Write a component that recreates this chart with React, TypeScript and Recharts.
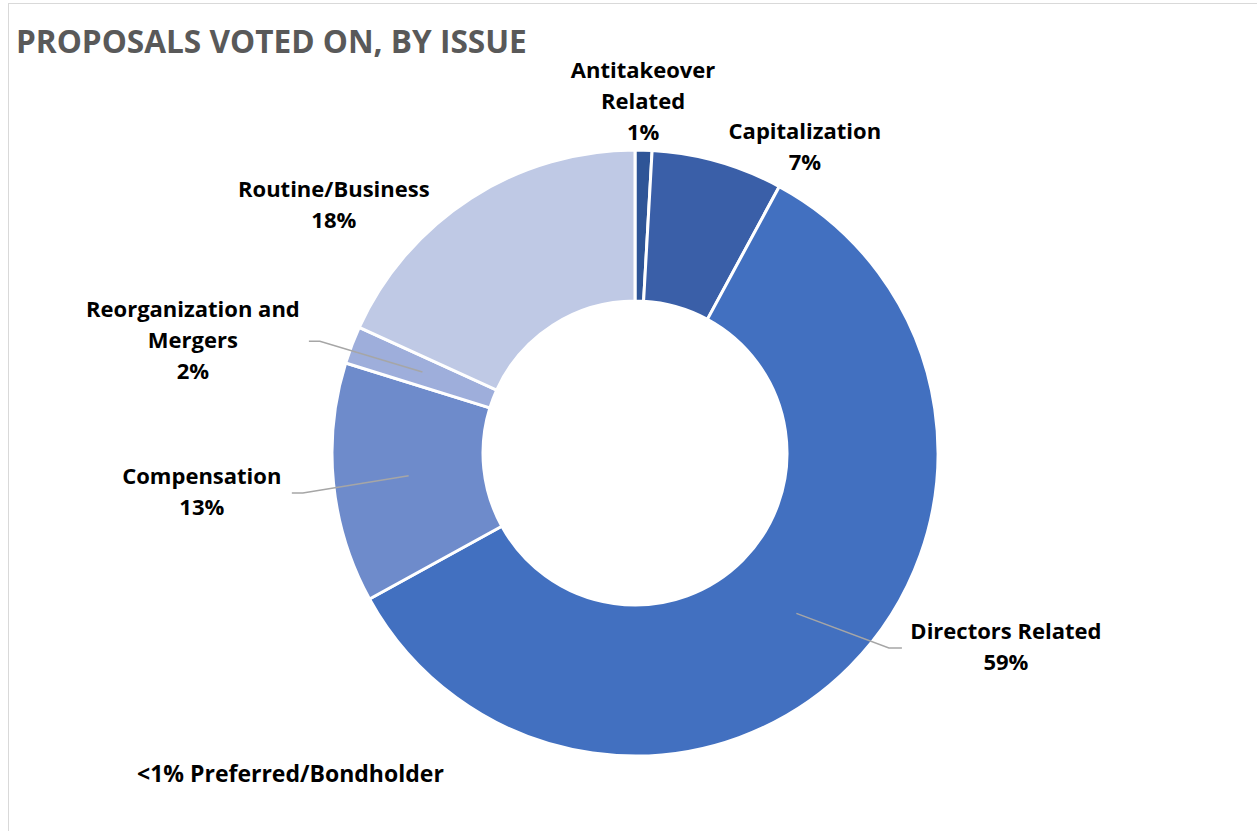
import React from "react";
import { PieChart, Pie, Cell } from "recharts";

const categories = [
  "Antitakeover Related",
  "Capitalization",
  "Directors Related",
  "Compensation",
  "Reorganization and Mergers",
  "Routine/Business",
];
const shares = [0.9, 7.0, 59.1, 12.8, 2.0, 18.2];
const sliceColors = ["#2F5597", "#3A5FA8", "#4270C0", "#6E8BCB", "#9EAEDB", "#BFC9E5"];
const title = "PROPOSALS VOTED ON, BY ISSUE";
const note = "<1% Preferred/Bondholder";

// label placement: radius, angle nudge (deg, clockwise), leader end offset from label centre
const labelLayout = [
  { r: 351, da: -0.3, lead: 0 },
  { r: 350, da: 13.2, lead: 0 },
  { r: 419, da: -17.1, lead: -104 },
  { r: 435, da: 0.5, lead: 90 },
  { r: 456, da: -6.7, lead: 116 },
  { r: 390, da: -17.8, lead: 0 },
];

const data = categories.map((name, i) => ({ name, value: shares[i] }));

const FONT = "'Open Sans', Lato, sans-serif";
const RAD = Math.PI / 180;

// clockwise-from-top angle to point
const polar = (cx: number, cy: number, r: number, deg: number) => ({
  x: cx + r * Math.sin(deg * RAD),
  y: cy - r * Math.cos(deg * RAD),
});

const wrap = (text: string, max: number) => {
  const lines: string[] = [];
  let cur = "";
  text.split(" ").forEach((w) => {
    const next = cur ? cur + " " + w : w;
    if (next.length > max && cur) {
      lines.push(cur);
      cur = w;
    } else cur = next;
  });
  if (cur) lines.push(cur);
  return lines;
};

const renderLabel = (props: any) => {
  const { cx, cy, midAngle, innerRadius, outerRadius, percent, index, name } = props;
  const layout = labelLayout[index];
  const theta = 90 - midAngle;
  const pos = polar(cx, cy, layout.r, theta + layout.da);
  const lines = [...wrap(name, 18), `${Math.round(percent * 100)}%`];
  const lh = 31;
  let leader = null;
  if (layout.lead) {
    const start = polar(cx, cy, (innerRadius + outerRadius) / 2, theta);
    const endX = pos.x + layout.lead;
    const ly = pos.y;
    const elbowX = endX + (layout.lead > 0 ? 11 : -13);
    leader = (
      <polyline
        points={`${start.x},${start.y} ${elbowX},${ly} ${endX},${ly}`}
        fill="none"
        stroke="#A6A6A6"
        strokeWidth={1.5}
      />
    );
  }
  return (
    <g key={`lbl-${index}`}>
      {leader}
      <text
        x={pos.x}
        textAnchor="middle"
        fontFamily={FONT}
        fontWeight={700}
        fontSize={22}
        fill="#000"
      >
        {lines.map((l, i) => (
          <tspan key={i} x={pos.x} y={pos.y - 2 + (i - (lines.length - 1) / 2) * lh} dominantBaseline="central">
            {l}
          </tspan>
        ))}
      </text>
    </g>
  );
};

export default function App() {
  return (
    <div
      style={{
        position: "absolute",
        left: 8,
        top: 3,
        width: 1249,
        height: 828,
        borderTop: "1px solid #D9D9D9",
        borderLeft: "1px solid #D9D9D9",
        background: "#fff",
        overflow: "hidden",
      }}
    >
      <div
        style={{
          position: "absolute",
          left: 7,
          top: 15,
          fontFamily: FONT,
          fontWeight: 700,
          fontSize: 31.6,
          color: "#595959",
          whiteSpace: "nowrap",
        }}
      >
        {title}
      </div>
      <PieChart width={1249} height={828}>
        <Pie
          data={data}
          dataKey="value"
          nameKey="name"
          cx={621}
          cy={444}
          innerRadius={152}
          outerRadius={303}
          startAngle={90}
          endAngle={-270}
          stroke="#fff"
          strokeWidth={3}
          label={renderLabel}
          labelLine={false}
          isAnimationActive={false}
        >
          {data.map((d, i) => (
            <Cell key={d.name} fill={sliceColors[i]} />
          ))}
        </Pie>
      </PieChart>
      <div
        style={{
          position: "absolute",
          left: 128,
          top: 753,
          fontFamily: FONT,
          fontWeight: 700,
          fontSize: 23,
          color: "#000",
          whiteSpace: "nowrap",
        }}
      >
        {note}
      </div>
    </div>
  );
}
